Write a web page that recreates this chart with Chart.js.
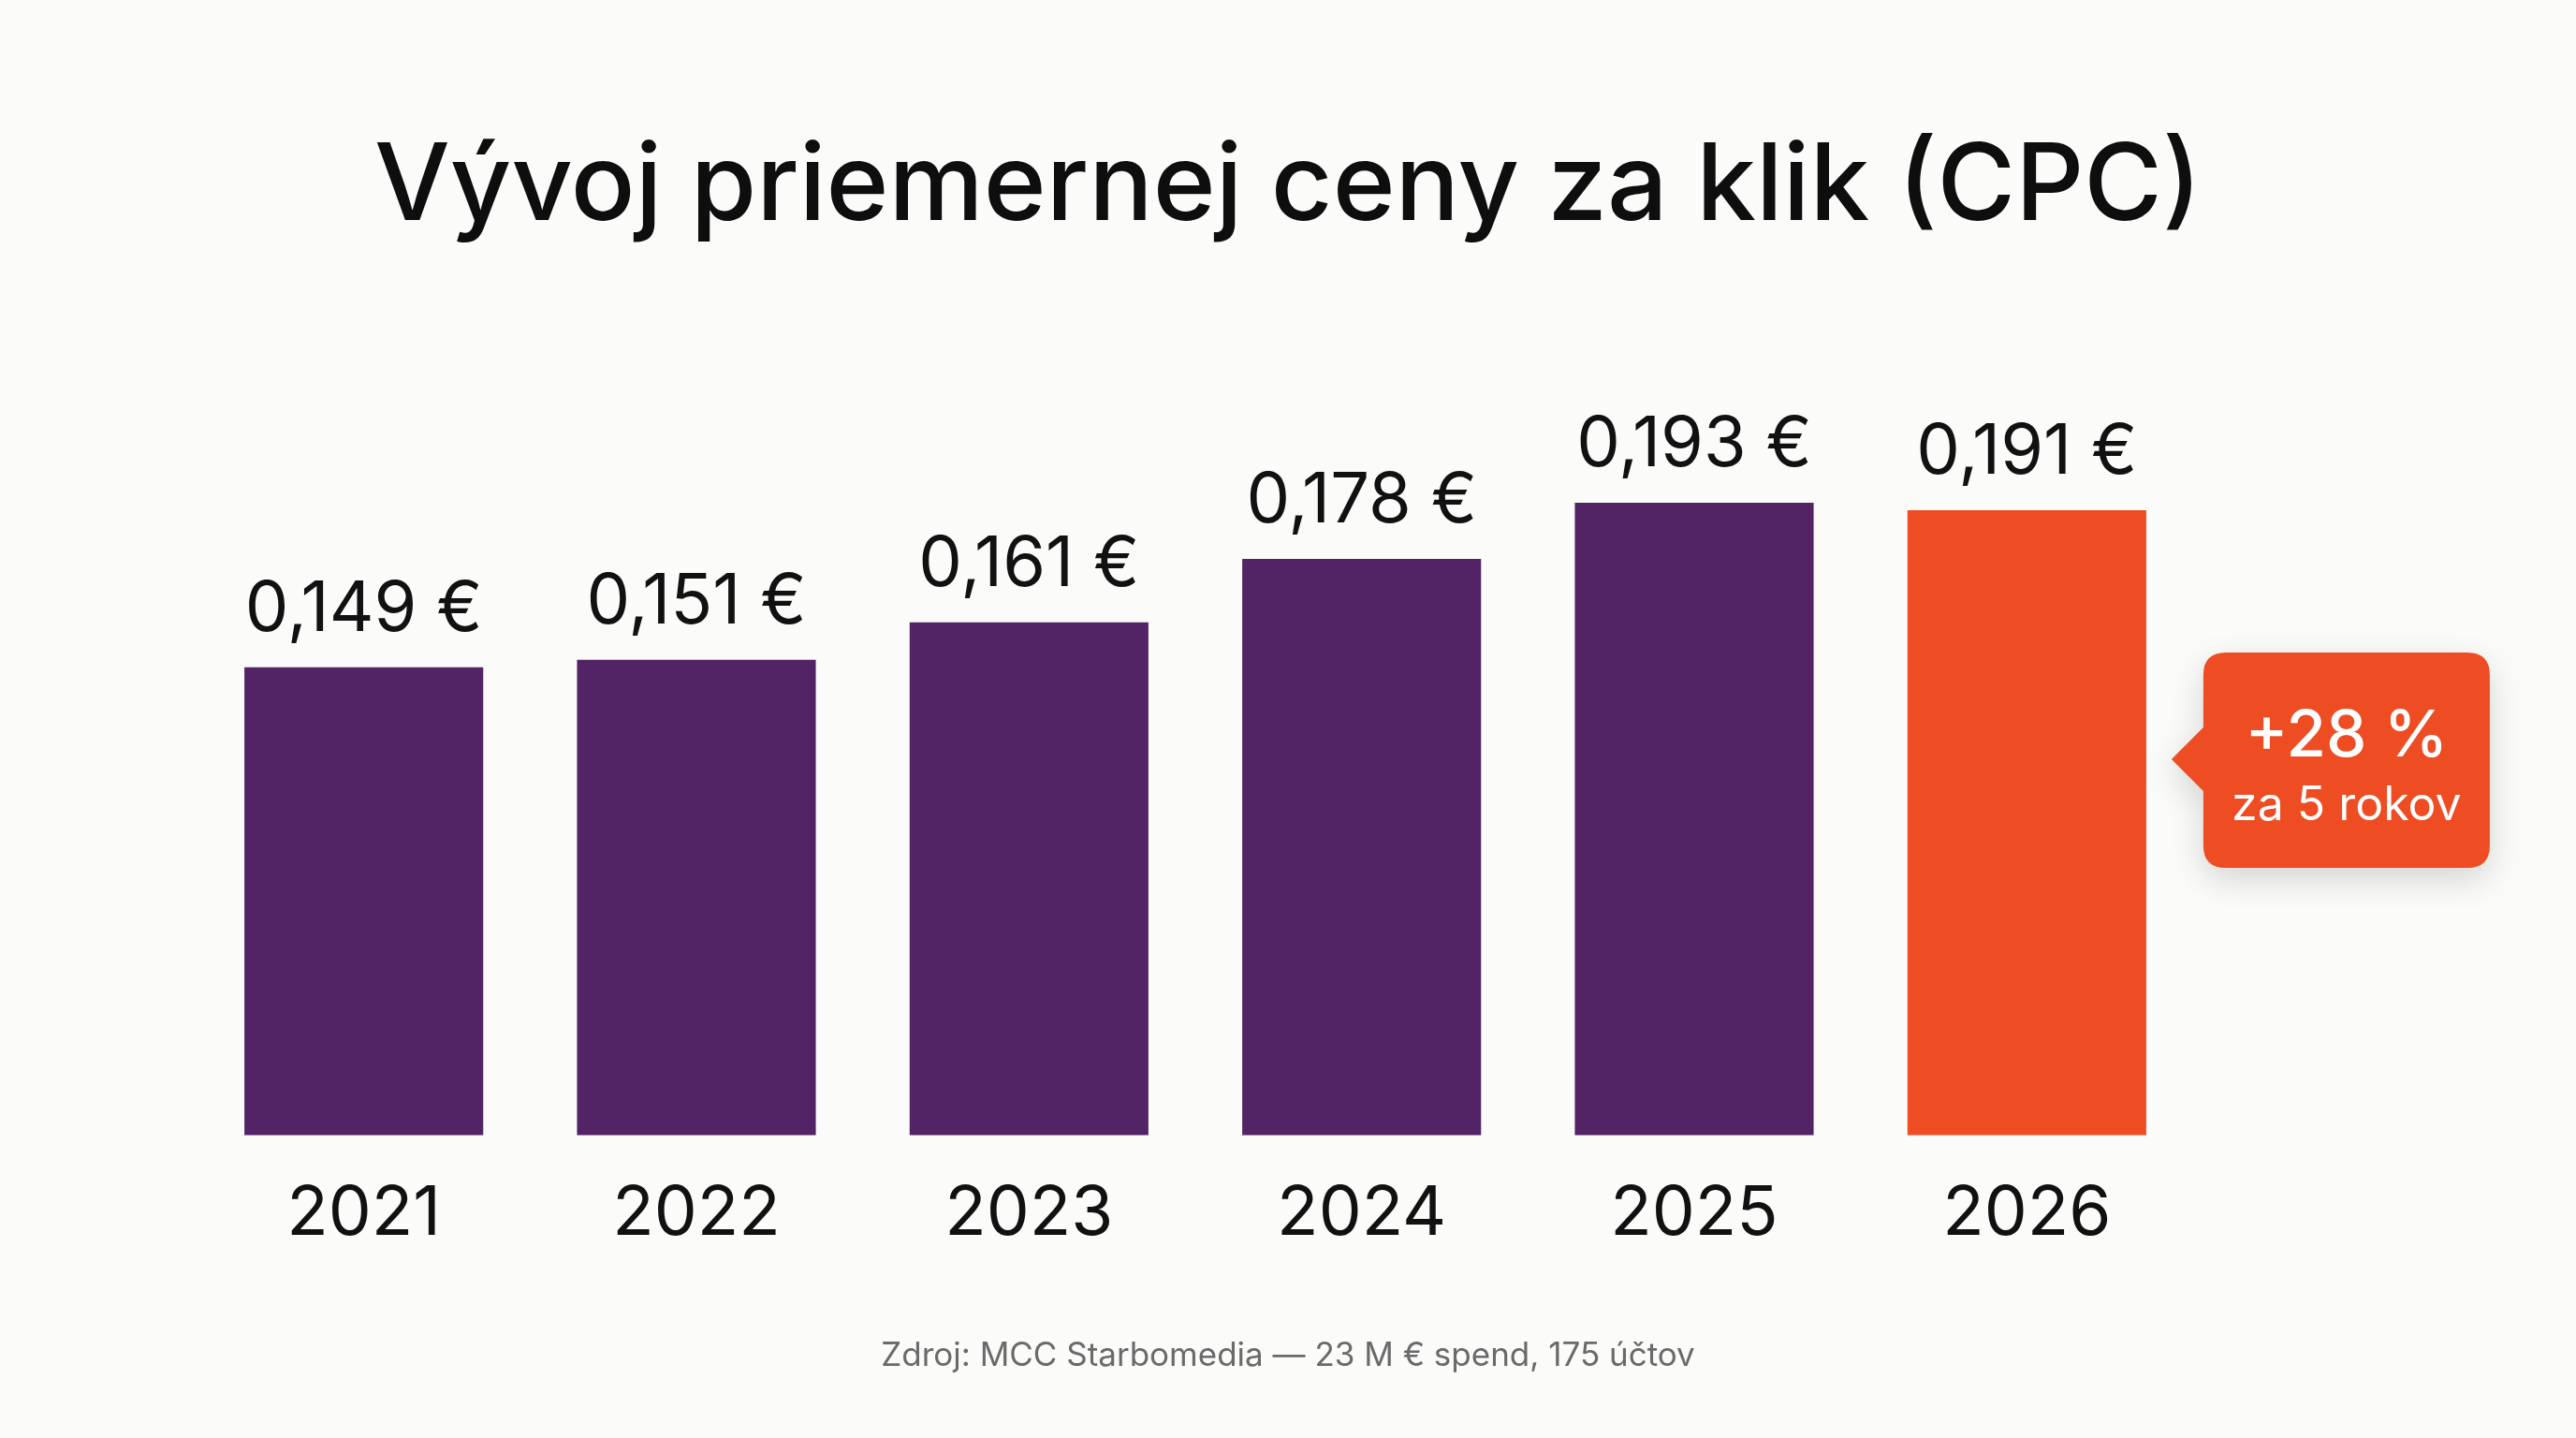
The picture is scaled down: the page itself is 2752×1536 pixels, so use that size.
<!DOCTYPE html>
<html>
<head>
<meta charset="utf-8">
<script src="https://cdn.jsdelivr.net/npm/chart.js@4.4.1/dist/chart.umd.min.js"></script>
<style>
  html, body { margin: 0; padding: 0; background: #FBFBFA; }
  #wrap { position: relative; width: 2752px; height: 1536px; }
  canvas { display: block; }
</style>
</head>
<body>
<div id="wrap"><canvas id="c" width="2752" height="1536"></canvas></div>
<script>
// ---- Data ----
const title = "Vývoj priemernej ceny za klik (CPC)";
const years = ["2021", "2022", "2023", "2024", "2025", "2026"];
const cpcValues = [0.149, 0.151, 0.161, 0.178, 0.193, 0.191];
const valueLabels = ["0,149 €", "0,151 €", "0,161 €", "0,178 €", "0,193 €", "0,191 €"];
const calloutLines = ["+28 %", "za 5 rokov"];
const sourceText = "Zdroj: MCC Starbomedia — 23 M € spend, 175 účtov";

// ---- Styles ----
const PURPLE = "#522466";
const ORANGE = "#EE4C22";
const barColors = years.map((y, i) => i === years.length - 1 ? ORANGE : PURPLE);
const FONT = "Inter, 'Noto Sans', sans-serif";

const annotations = {
  id: "annotations",
  afterDatasetsDraw(chart) {
    const ctx = chart.ctx;
    const meta = chart.getDatasetMeta(0);
    ctx.save();
    // value labels above bars
    ctx.fillStyle = "#111111";
    ctx.font = `400 74px ${FONT}`;
    ctx.textAlign = "center";
    ctx.textBaseline = "alphabetic";
    meta.data.forEach((bar, i) => {
      ctx.fillText(valueLabels[i], bar.x, bar.y - 39);
    });

    // title
    ctx.font = `500 114px ${FONT}`;
    ctx.fillStyle = "#0E0E0E";
    ctx.fillText(title, chart.width / 2, 235);

    // source
    ctx.font = `400 35px ${FONT}`;
    ctx.fillStyle = "#6A6A6A";
    ctx.fillText(sourceText, chart.width / 2, 1459);

    // callout next to the last bar
    const last = meta.data[meta.data.length - 1];
    const tipX = last.x + last.width / 2 + 27;
    const boxL = tipX + 34, boxR = boxL + 306;
    const boxT = 697, boxB = 927, r = 24;
    const tipY = 811;
    ctx.save();
    ctx.shadowColor = "rgba(0,0,0,0.16)";
    ctx.shadowBlur = 36;
    ctx.shadowOffsetY = 12;
    ctx.fillStyle = ORANGE;
    ctx.beginPath();
    ctx.moveTo(boxL + r, boxT);
    ctx.lineTo(boxR - r, boxT);
    ctx.quadraticCurveTo(boxR, boxT, boxR, boxT + r);
    ctx.lineTo(boxR, boxB - r);
    ctx.quadraticCurveTo(boxR, boxB, boxR - r, boxB);
    ctx.lineTo(boxL + r, boxB);
    ctx.quadraticCurveTo(boxL, boxB, boxL, boxB - r);
    ctx.lineTo(boxL, tipY + 34);
    ctx.lineTo(tipX, tipY);
    ctx.lineTo(boxL, tipY - 34);
    ctx.lineTo(boxL, boxT + r);
    ctx.quadraticCurveTo(boxL, boxT, boxL + r, boxT);
    ctx.closePath();
    ctx.fill();
    ctx.restore();

    const cx = (boxL + boxR) / 2;
    ctx.fillStyle = "#FFFFFF";
    ctx.textAlign = "center";
    ctx.font = `500 69px ${FONT}`;
    ctx.fillText(calloutLines[0], cx, 808);
    ctx.font = `400 50px ${FONT}`;
    ctx.fillText(calloutLines[1], cx, 876);
    ctx.restore();
  }
};

const bg = {
  id: "bg",
  beforeDraw(chart) {
    const ctx = chart.ctx;
    ctx.save();
    ctx.fillStyle = "#FBFBFA";
    ctx.fillRect(0, 0, chart.width, chart.height);
    ctx.restore();
  }
};

new Chart(document.getElementById("c"), {
  type: "bar",
  data: {
    labels: years,
    datasets: [{
      data: cpcValues,
      backgroundColor: barColors,
      borderWidth: 0,
      categoryPercentage: 1.0,
      barPercentage: 0.718
    }]
  },
  options: {
    responsive: false,
    animation: false,
    devicePixelRatio: 1,
    layout: { padding: { top: 509, left: 211, right: 409, bottom: 154 } },
    plugins: { legend: { display: false }, tooltip: { enabled: false }, title: { display: false } },
    scales: {
      y: { display: false, min: 0.024, max: 0.2 },
      x: {
        grid: { display: false, drawTicks: false },
        border: { display: false },
        ticks: { color: "#111111", font: { family: FONT, size: 73, weight: "400" }, padding: 41 }
      }
    }
  },
  plugins: [bg, annotations]
});
</script>
</body>
</html>
